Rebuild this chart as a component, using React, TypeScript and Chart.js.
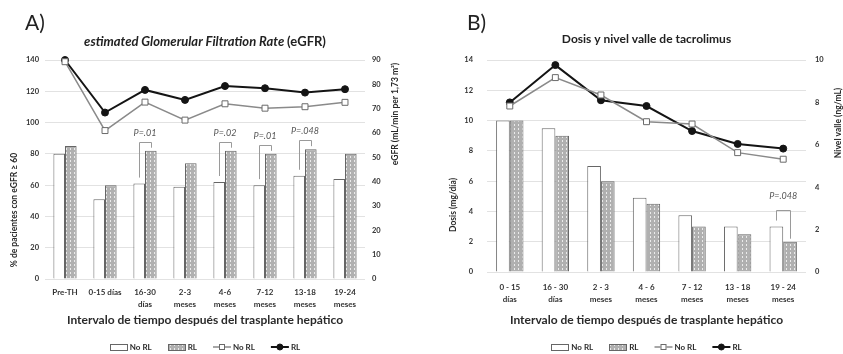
import React, { useEffect, useRef } from 'react';
import { Chart, registerables } from 'chart.js';
Chart.register(...registerables);

const FONT = 'Lato, "Open Sans", "Liberation Sans", sans-serif';

// ---------- Panel A data ----------
const categoriesA: string[][] = [
  ['Pre-TH'], ['0-15 días'], ['16-30', 'días'], ['2-3', 'meses'],
  ['4-6', 'meses'], ['7-12', 'meses'], ['13-18', 'meses'], ['19-24', 'meses'],
];
const pctEgfr60NoRL = [80, 51, 61, 59, 62, 60, 66, 64];
const pctEgfr60RL = [85, 60, 82, 74, 82, 80, 83, 80];
const egfrNoRL = [89.3, 61, 72.7, 65.3, 72, 70.2, 70.8, 72.6];
const egfrRL = [90, 68.4, 77.7, 73.6, 79.3, 78.4, 76.6, 78];
const pValuesA: (string | null)[] = [null, null, 'P=.01', null, 'P=.02', 'P=.01', 'P=.048', null];

// ---------- Panel B data ----------
const categoriesB: string[][] = [
  ['0 - 15', 'días'], ['16 - 30', 'días'], ['2 - 3', 'meses'], ['4 - 6', 'meses'],
  ['7 - 12', 'meses'], ['13 - 18', 'meses'], ['19 - 24', 'meses'],
];
const doseNoRL = [10, 9.5, 7.0, 4.9, 3.75, 3.0, 3.0];
const doseRL = [10, 9.0, 6.0, 4.5, 3.0, 2.5, 2.0];
const troughNoRL = [7.83, 9.17, 8.35, 7.09, 6.98, 5.63, 5.32];
const troughRL = [8.0, 9.76, 8.1, 7.83, 6.65, 6.04, 5.82];
const pValuesB: (string | null)[] = [null, null, null, null, null, null, 'P=.048'];

const seriesLabels = ['No RL', 'RL', 'No RL', 'RL'];

type Part = { text: string; italic: boolean };
type PanelCfg = {
  width: number; height: number; left: number;
  letter: string; letterX: number; letterY: number;
  titleParts: Part[]; titleY: number; titleSize: number;
  cats: string[][]; barNo: number[]; barRL: number[]; lineNo: number[]; lineRL: number[];
  pvals: (string | null)[];
  yMax: number; yStep: number; y1Max: number; y1Step: number;
  leftW: number; rightW: number; bottomH: number; topPad: number;
  catPct: number; leftTickPad: number; rightTickPad: number; xTickPad: number;
  leftTitle: string; leftTitleX: number; leftTitleY: number;
  rightTitle: string; rightTitleX: number; rightTitleY: number;
  xTitle: string; xTitleY: number; legendY: number;
  bracketRise: number; textGap: number; pointR: number; squareR: number;
};

function makePattern(ctx: CanvasRenderingContext2D) {
  const t = document.createElement('canvas');
  t.width = 4; t.height = 4;
  const g = t.getContext('2d')!;
  g.fillStyle = '#b0b0b0';
  g.fillRect(0, 0, 4, 4);
  g.fillStyle = '#ebebeb';
  g.fillRect(2, 0, 1, 2);
  return ctx.createPattern(t, 'repeat')!;
}

function decorPlugin(cfg: PanelCfg) {
  return {
    id: 'decor' + cfg.letter,
    afterDatasetsDraw(chart: any) {
      const ctx: CanvasRenderingContext2D = chart.ctx;
      const m0 = chart.getDatasetMeta(0);
      const m1 = chart.getDatasetMeta(1);
      ctx.save();
      cfg.pvals.forEach((lab, i) => {
        if (!lab) return;
        const a = m0.data[i];
        const b = m1.data[i];
        const topY = Math.min(a.y, b.y) - cfg.bracketRise;
        ctx.strokeStyle = '#9a9a9a';
        ctx.lineWidth = 1;
        ctx.beginPath();
        ctx.moveTo(Math.round(a.x) + 0.5, a.y - 6);
        ctx.lineTo(Math.round(a.x) + 0.5, Math.round(topY) + 0.5);
        ctx.lineTo(Math.round(b.x) + 0.5, Math.round(topY) + 0.5);
        ctx.lineTo(Math.round(b.x) + 0.5, b.y - 3);
        ctx.stroke();
        ctx.fillStyle = '#555';
        ctx.font = `italic 9px ${FONT}`;
        ctx.textAlign = 'center';
        ctx.textBaseline = 'middle';
        ctx.fillText(lab, (a.x + b.x) / 2, topY - cfg.textGap);
      });
      ctx.restore();
    },
    afterDraw(chart: any) {
      const ctx: CanvasRenderingContext2D = chart.ctx;
      const area = chart.chartArea;
      const cx = (area.left + area.right) / 2;
      ctx.save();
      ctx.fillStyle = '#222';
      ctx.font = `21px ${FONT}`;
      ctx.textAlign = 'left';
      ctx.textBaseline = 'middle';
      ctx.fillText(cfg.letter, cfg.letterX, cfg.letterY);
      const fonts = cfg.titleParts.map(p => `${p.italic ? 'italic ' : ''}bold ${cfg.titleSize}px ${FONT}`);
      let total = 0;
      const widths = cfg.titleParts.map((p, i) => { ctx.font = fonts[i]; const w = ctx.measureText(p.text).width; total += w; return w; });
      let x = cx - total / 2;
      cfg.titleParts.forEach((p, i) => {
        ctx.font = fonts[i];
        ctx.fillText(p.text, x, cfg.titleY);
        x += widths[i];
      });
      ctx.textAlign = 'center';
      ctx.font = `bold 12px ${FONT}`;
      ctx.fillStyle = '#2a2a2a';
      ctx.fillText(cfg.xTitle, cx, cfg.xTitleY);
      ctx.font = `bold 8.5px ${FONT}`;
      [[cfg.leftTitle, cfg.leftTitleX, cfg.leftTitleY], [cfg.rightTitle, cfg.rightTitleX, cfg.rightTitleY]].forEach(([t, tx, ty]) => {
        ctx.save();
        ctx.translate(tx as number, ty as number);
        ctx.rotate(-Math.PI / 2);
        ctx.fillText(t as string, 0, 0);
        ctx.restore();
      });
      const ds = chart.data.datasets;
      ctx.font = `bold 8px ${FONT}`;
      const symW = 18, gap = 2, spacing = 16;
      const itemW = ds.map((d: any) => symW + gap + ctx.measureText(d.label).width);
      const totalW = itemW.reduce((s: number, w: number) => s + w, 0) + spacing * (ds.length - 1);
      let lx = cx - totalW / 2;
      const ly = cfg.legendY;
      ds.forEach((d: any, i: number) => {
        if (d.type === 'line') {
          ctx.strokeStyle = d.borderColor;
          ctx.lineWidth = d.borderWidth;
          ctx.beginPath();
          ctx.moveTo(lx, ly); ctx.lineTo(lx + symW, ly);
          ctx.stroke();
          ctx.fillStyle = d.pointBackgroundColor;
          ctx.strokeStyle = d.pointBorderColor;
          ctx.lineWidth = 1;
          if (d.pointStyle === 'rect') {
            ctx.fillRect(lx + symW / 2 - 3, ly - 3, 6, 6);
            ctx.strokeRect(lx + symW / 2 - 3 + 0.5, ly - 3 + 0.5, 5, 5);
          } else {
            ctx.beginPath();
            ctx.arc(lx + symW / 2, ly, 3, 0, Math.PI * 2);
            ctx.fill(); ctx.stroke();
          }
        } else {
          ctx.fillStyle = d.backgroundColor;
          ctx.fillRect(Math.round(lx), Math.round(ly) - 3, symW, 6);
          ctx.strokeStyle = d.borderColor;
          ctx.lineWidth = 1;
          ctx.strokeRect(Math.round(lx) + 0.5, Math.round(ly) - 3 + 0.5, symW - 1, 6);
        }
        ctx.fillStyle = '#2a2a2a';
        ctx.textAlign = 'left';
        ctx.fillText(d.label, lx + symW + gap, ly);
        lx += itemW[i] + spacing;
      });
      ctx.restore();
    },
  };
}

function Panel({ cfg }: { cfg: PanelCfg }) {
  const ref = useRef<HTMLCanvasElement>(null);
  useEffect(() => {
    const canvas = ref.current!;
    const ctx = canvas.getContext('2d')!;
    const pattern = makePattern(ctx);
    const tickColor = '#333';
    const chart = new Chart(canvas, {
      type: 'bar',
      data: {
        labels: cfg.cats,
        datasets: [
          { type: 'bar', label: seriesLabels[0], data: cfg.barNo, yAxisID: 'y', order: 1,
            backgroundColor: '#ffffff', borderColor: '#666666', borderWidth: 1,
            categoryPercentage: cfg.catPct, barPercentage: 1.0 } as any,
          { type: 'bar', label: seriesLabels[1], data: cfg.barRL, yAxisID: 'y', order: 1,
            backgroundColor: pattern, borderColor: '#666666', borderWidth: 1,
            categoryPercentage: cfg.catPct, barPercentage: 1.0 } as any,
          { type: 'line', label: seriesLabels[2], data: cfg.lineNo, yAxisID: 'y1', order: 0, clip: false,
            borderColor: '#8a8a8a', borderWidth: 1.5, pointStyle: 'rect', pointRadius: cfg.squareR,
            pointBackgroundColor: '#ffffff', pointBorderColor: '#6a6a6a', pointBorderWidth: 1 } as any,
          { type: 'line', label: seriesLabels[3], data: cfg.lineRL, yAxisID: 'y1', order: 0, clip: false,
            borderColor: '#141414', borderWidth: 2, pointStyle: 'circle', pointRadius: cfg.pointR,
            pointBackgroundColor: '#141414', pointBorderColor: '#141414', pointBorderWidth: 1 } as any,
        ],
      },
      options: {
        responsive: false,
        animation: false,
        devicePixelRatio: 1,
        layout: { padding: { top: cfg.topPad, left: 0, right: 0, bottom: 0 } },
        plugins: { legend: { display: false }, title: { display: false }, tooltip: { enabled: false } },
        scales: {
          x: {
            grid: { display: false, drawTicks: false },
            border: { display: false },
            ticks: { font: { family: FONT, size: 8, weight: 'bold', lineHeight: 1.5 }, color: tickColor,
              padding: cfg.xTickPad, maxRotation: 0, autoSkip: false },
            afterFit: (s: any) => { s.height = cfg.bottomH; },
          },
          y: {
            position: 'left', min: 0, max: cfg.yMax,
            ticks: { stepSize: cfg.yStep, font: { family: FONT, size: 7.5, weight: 'bold' }, color: tickColor, padding: cfg.leftTickPad },
            grid: { color: '#e2e2e2', drawTicks: false },
            border: { display: false },
            afterFit: (s: any) => { s.width = cfg.leftW; },
          },
          y1: {
            position: 'right', min: 0, max: cfg.y1Max,
            ticks: { stepSize: cfg.y1Step, font: { family: FONT, size: 7.5, weight: 'bold' }, color: tickColor, padding: cfg.rightTickPad },
            grid: { drawOnChartArea: false, drawTicks: false },
            border: { display: false },
            afterFit: (s: any) => { s.width = cfg.rightW; },
          },
        },
      } as any,
      plugins: [decorPlugin(cfg)],
    });
    return () => chart.destroy();
  }, [cfg]);
  return (
    <canvas ref={ref} width={cfg.width} height={cfg.height}
      style={{ position: 'absolute', left: cfg.left, top: 0, width: cfg.width, height: cfg.height }} />
  );
}

const cfgA: PanelCfg = {
  width: 420, height: 354, left: 0,
  letter: 'A)', letterX: 25, letterY: 23,
  titleParts: [{ text: 'estimated Glomerular Filtration Rate ', italic: true }, { text: '(eGFR)', italic: false }],
  titleY: 42, titleSize: 13,
  cats: categoriesA, barNo: pctEgfr60NoRL, barRL: pctEgfr60RL, lineNo: egfrNoRL, lineRL: egfrRL, pvals: pValuesA,
  yMax: 140, yStep: 20, y1Max: 90, y1Step: 10,
  leftW: 45, rightW: 55, bottomH: 75, topPad: 60,
  catPct: 0.58, leftTickPad: 6, rightTickPad: 7, xTickPad: 7,
  leftTitle: '% de pacientes con eGFR ≥ 60', leftTitleX: 14, leftTitleY: 210,
  rightTitle: 'eGFR (mL/min per 1,73 m²)', rightTitleX: 395, rightTitleY: 114,
  xTitle: 'Intervalo de tiempo después del trasplante hepático', xTitleY: 320, legendY: 347,
  bracketRise: 9, textGap: 9, pointR: 3.5, squareR: 4.2,
};

const cfgB: PanelCfg = {
  width: 423, height: 354, left: 420,
  letter: 'B)', letterX: 47, letterY: 23,
  titleParts: [{ text: 'Dosis y nivel valle de tacrolimus', italic: false }],
  titleY: 39, titleSize: 12,
  cats: categoriesB, barNo: doseNoRL, barRL: doseRL, lineNo: troughNoRL, lineRL: troughRL, pvals: pValuesB,
  yMax: 14, yStep: 2, y1Max: 10, y1Step: 2,
  leftW: 67, rightW: 37, bottomH: 82, topPad: 60,
  catPct: 0.6, leftTickPad: 14, rightTickPad: 9, xTickPad: 9,
  leftTitle: 'Dosis (mg/día)', leftTitleX: 33, leftTitleY: 205,
  rightTitle: 'Nivel valle (ng/mL)', rightTitleX: 418, rightTitleY: 123,
  xTitle: 'Intervalo de tiempo después de trasplante hepático', xTitleY: 320, legendY: 347,
  bracketRise: 17, textGap: 13, pointR: 3.5, squareR: 4.2,
};

export default function App() {
  return (
    <div style={{ position: 'fixed', left: 0, top: 0, width: 843, height: 354, background: '#ffffff' }}>
      <Panel cfg={cfgA} />
      <Panel cfg={cfgB} />
    </div>
  );
}
